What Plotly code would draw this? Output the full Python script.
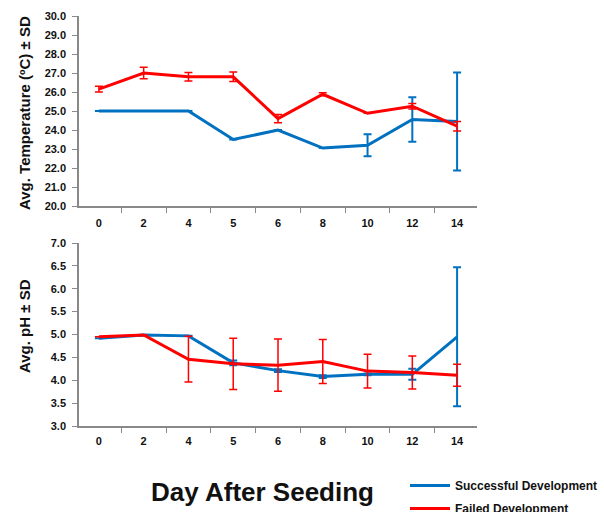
import plotly.graph_objects as go

days = ["0", "2", "4", "5", "6", "8", "10", "12", "14"]

temp_success = [25.0, 25.0, 25.0, 23.5, 24.0, 23.05, 23.2, 24.55, 24.45]
temp_success_sd = [0, 0, 0, 0, 0, 0, 0.58, 1.17, 2.58]
temp_failed = [26.15, 27.0, 26.8, 26.8, 24.6, 25.88, 24.88, 25.25, 24.2]
temp_failed_sd = [0.15, 0.3, 0.22, 0.25, 0.22, 0.08, 0.0, 0.15, 0.25]

ph_success = [4.92, 4.99, 4.97, 4.38, 4.21, 4.08, 4.13, 4.13, 4.95]
ph_success_sd = [0, 0, 0, 0.05, 0.03, 0.03, 0.02, 0.12, 1.52]
ph_failed = [4.95, 4.99, 4.46, 4.36, 4.33, 4.41, 4.2, 4.17, 4.11]
ph_failed_sd = [0, 0, 0.5, 0.56, 0.57, 0.48, 0.37, 0.36, 0.24]

BLUE = "#0070C0"
RED = "#FF0000"
FONT = "Liberation Sans, Arial, sans-serif"

fig = go.Figure()

def add(x, y, sd, color, name, xa, ya, show, ew, group):
    fig.add_trace(go.Scatter(
        x=x, y=y, mode="lines", name=name, showlegend=show, legendgroup=group,
        line=dict(color=color, width=3),
        error_y=dict(type="data", array=sd, visible=True, color=color,
                     thickness=ew, width=4),
        xaxis=xa, yaxis=ya,
    ))

add(days, temp_success, temp_success_sd, BLUE, "Successful Development", "x", "y", True, 2, "s")
add(days, temp_failed, temp_failed_sd, RED, "Failed Development", "x", "y", True, 1.5, "f")
add(days, ph_success, ph_success_sd, BLUE, "Successful Development", "x2", "y2", False, 2, "s")
add(days, ph_failed, ph_failed_sd, RED, "Failed Development", "x2", "y2", False, 1.5, "f")

axis_common = dict(
    showline=True, linecolor="#898989", linewidth=1.5,
    ticks="outside", tickcolor="#898989", ticklen=5, tickwidth=1,
    showgrid=False, zeroline=False,
    tickfont=dict(family=FONT, size=11, color="#111111", weight="bold"),
)
ytitle_font = dict(family=FONT, size=15, color="#111111", weight="bold")

xd = [79 / 604, 477 / 604]
fig.update_layout(
    width=604, height=512,
    paper_bgcolor="white", plot_bgcolor="white",
    margin=dict(l=0, r=0, t=0, b=0, autoexpand=False),
    xaxis=dict(domain=xd, type="category", tickson="boundaries",
               anchor="y", ticklabelstandoff=6, **axis_common),
    yaxis=dict(domain=[1 - 206 / 512, 1 - 16 / 512], range=[20, 30], dtick=1,
               tickformat=".1f", anchor="x", ticklabelstandoff=4, **axis_common),
    xaxis2=dict(domain=xd, type="category", tickson="boundaries",
                anchor="y2", ticklabelstandoff=4, **axis_common),
    yaxis2=dict(domain=[1 - 426 / 512, 1 - 243 / 512], range=[3, 7], dtick=0.5,
                tickformat=".1f", anchor="x2", ticklabelstandoff=4, **axis_common),
    legend=dict(x=405 / 604, y=1 - 471 / 512, xanchor="left", yanchor="top",
                font=dict(family=FONT, size=12, color="#111111", weight="bold"),
                bgcolor="rgba(0,0,0,0)", tracegroupgap=4, itemwidth=40),
    showlegend=True,
)

for txt, ypx in [("Avg. Temperature (ºC) ± SD", 113), ("Avg. pH ± SD", 326)]:
    fig.add_annotation(text=txt, x=24 / 604, y=1 - ypx / 512,
                       xref="paper", yref="paper", showarrow=False, textangle=-90,
                       xanchor="center", yanchor="middle", font=ytitle_font)

fig.add_annotation(text="Day After Seeding", x=262 / 604, y=1 - 492 / 512,
                   xref="paper", yref="paper", showarrow=False,
                   xanchor="center", yanchor="middle",
                   font=dict(family=FONT, size=26, color="#111111", weight="bold"))

fig.write_html("out.html", config={"displayModeBar": False},
               post_script="document.body.style.margin='0';")
